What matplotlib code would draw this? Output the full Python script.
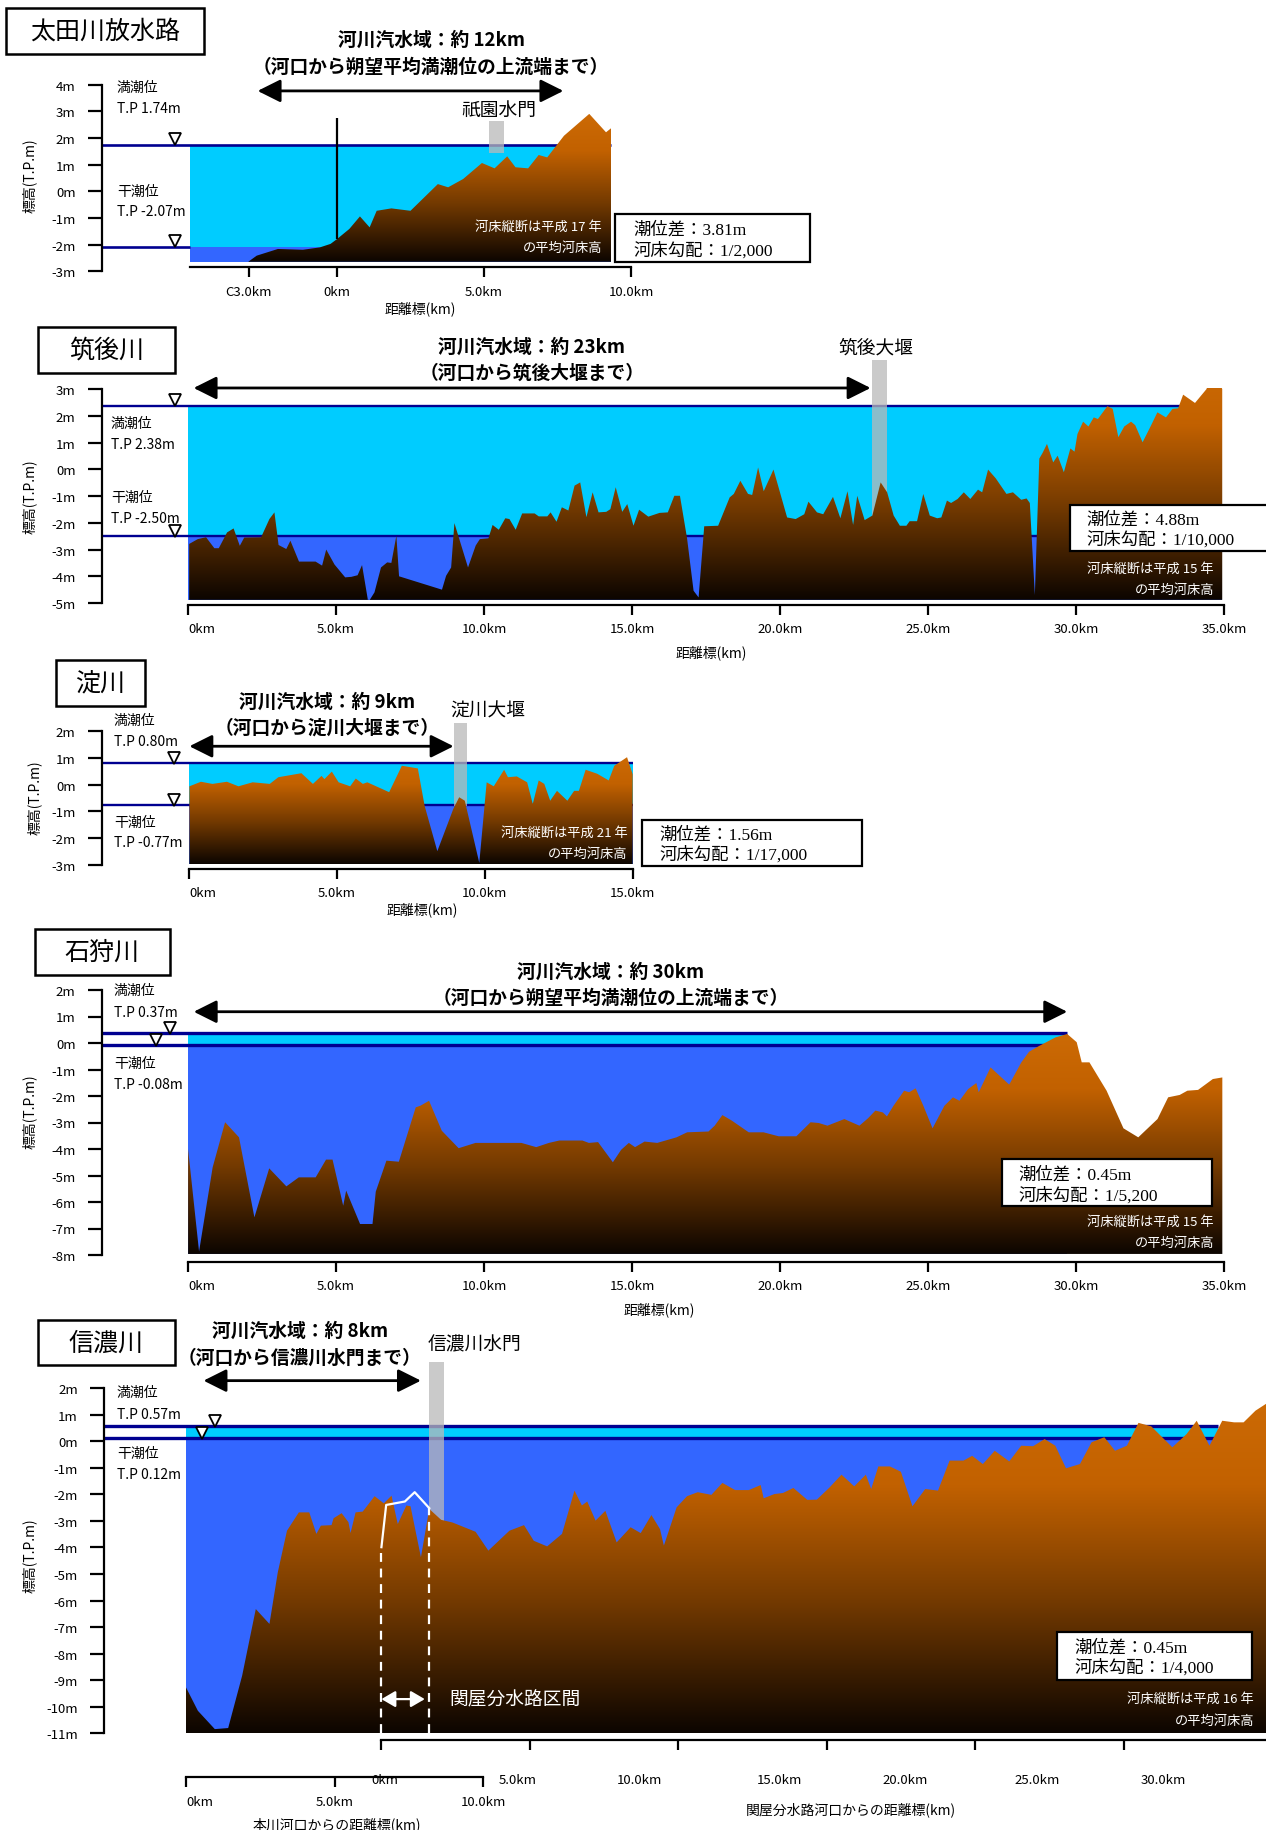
import numpy as np
import matplotlib
matplotlib.use('Agg')
import matplotlib.pyplot as plt
from matplotlib.patches import Rectangle, Polygon
from matplotlib.colors import LinearSegmentedColormap

plt.rcParams['font.family'] = ['Noto Sans CJK JP', 'DejaVu Sans']
SERIF = ['Liberation Serif', 'Noto Sans CJK JP']

# ==================================================================
# data
# ==================================================================
river_names = ['太田川放水路', '筑後川', '淀川', '石狩川', '信濃川']
high_tide = [1.74, 2.38, 0.80, 0.37, 0.57]
low_tide = [-2.07, -2.50, -0.77, -0.08, 0.12]
tide_range = ['3.81m', '4.88m', '1.56m', '0.45m', '0.45m']
bed_slope = ['1/2,000', '1/10,000', '1/17,000', '1/5,200', '1/4,000']
survey_year = [17, 15, 21, 15, 16]
brackish_len = [12, 23, 9, 30, 8]
brackish_note = ['河口から朔望平均満潮位の上流端まで', '河口から筑後大堰まで',
                 '河口から淀川大堰まで', '河口から朔望平均満潮位の上流端まで',
                 '河口から信濃川水門まで']
brackish_from = [-2.7, 0.19, 0.0, 0.19, 0.59]
brackish_to = [7.7, 23.06, 8.94, 29.7, 7.91]
gate_names = ['祇園水門', '筑後大堰', '淀川大堰', None, '信濃川水門']
gate_from = [5.17, 23.1, 8.95, None, 8.19]
gate_to = [5.68, 23.6, 9.40, None, 8.69]
gate_top = [2.64, 4.09, 2.31, None, 2.99]
gate_bottom = [1.42, -4.8, -0.8, None, -3.0]

yticks_all = [list(range(-3, 5)), list(range(-5, 4)), list(range(-3, 3)),
              list(range(-8, 3)), list(range(-11, 3))]
xticks_all = [[-3, 0, 5, 10], [0, 5, 10, 15, 20, 25, 30, 35], [0, 5, 10, 15],
              [0, 5, 10, 15, 20, 25, 30, 35], [0, 5, 10]]
xticklabels_all = [['C3.0km', '0km', '5.0km', '10.0km'],
                   ['0km', '5.0km', '10.0km', '15.0km', '20.0km', '25.0km', '30.0km', '35.0km'],
                   ['0km', '5.0km', '10.0km', '15.0km'],
                   ['0km', '5.0km', '10.0km', '15.0km', '20.0km', '25.0km', '30.0km', '35.0km'],
                   ['0km', '5.0km', '10.0km']]

# river bed profiles (distance km, elevation T.P. m)
ota_km = [-3.02, -2.73, -2.01, -1.16, -0.58, -0.22, 0.0, 0.42, 0.78, 1.11, 1.35, 1.85,
          2.50, 3.43, 3.78, 4.29, 4.93, 5.36, 5.79, 6.07, 6.50, 6.86, 7.15, 7.72, 8.58,
          9.15, 9.32]
ota_z = [-2.64, -2.41, -2.16, -2.19, -2.10, -1.97, -1.79, -1.41, -0.94, -1.35, -0.73,
         -0.64, -0.73, 0.27, 0.15, 0.46, 1.06, 0.86, 1.31, 0.90, 0.86, 1.36, 1.27, 2.08,
         2.90, 2.21, 2.36]

chikugo_km = [0.04, 0.33, 0.61, 0.89, 1.04, 1.32, 1.54, 1.75, 1.90, 2.47, 2.75, 2.92,
              3.06, 3.32, 3.46, 3.75, 4.31, 4.53, 4.67, 4.95, 5.31, 5.52, 5.73, 5.88,
              6.09, 6.30, 6.52, 6.73, 6.87, 7.04, 7.13, 8.58, 8.72, 8.89, 9.00, 9.46,
              9.72, 9.86, 10.15, 10.29, 10.50, 10.72, 10.86, 11.07, 11.29, 11.71, 11.85,
              12.14, 12.25, 12.45, 12.63, 12.85, 13.06, 13.25, 13.46, 13.67, 13.87, 14.13,
              14.27, 14.45, 14.67, 14.84, 15.05, 15.24, 15.55, 15.93, 16.21, 16.43, 16.62,
              16.86, 17.08, 17.25, 17.44, 17.91, 18.30, 18.44, 18.66, 18.92, 19.06, 19.26,
              19.45, 19.78, 20.24, 20.53, 20.82, 20.96, 21.25, 21.46, 21.79, 22.04, 22.28,
              22.47, 22.61, 22.86, 23.12, 23.40, 23.62, 23.84, 24.05, 24.27, 24.38, 24.63,
              24.84, 25.06, 25.31, 25.45, 25.64, 25.78, 26.00, 26.21, 26.43, 26.69, 26.83,
              27.03, 27.29, 27.65, 27.87, 28.15, 28.33, 28.44, 28.61, 28.76, 28.87, 29.02,
              29.23, 29.38, 29.59, 29.81, 29.95, 30.05, 30.24, 30.42, 30.60, 30.74, 31.06,
              31.24, 31.43, 31.63, 31.86, 32.00, 32.25, 32.54, 32.75, 33.04, 33.26, 33.45,
              33.62, 34.02, 34.41, 34.63, 34.94]
chikugo_z = [-2.79, -2.61, -2.54, -2.95, -2.95, -2.36, -2.21, -2.86, -2.55, -2.54, -1.86,
             -1.61, -2.83, -2.98, -2.67, -3.45, -3.45, -3.60, -3.00, -3.56, -4.04, -4.02,
             -3.96, -3.58, -4.97, -4.60, -3.67, -3.48, -3.50, -2.48, -4.00, -4.50, -3.98,
             -3.67, -2.01, -3.67, -2.85, -2.61, -2.58, -2.08, -2.26, -1.83, -1.86, -2.26,
             -1.65, -1.65, -1.76, -1.76, -1.61, -1.96, -1.42, -1.54, -0.61, -0.49, -1.79,
             -0.86, -1.61, -1.59, -1.49, -0.67, -1.59, -1.30, -2.11, -1.51, -1.77, -1.63,
             -1.61, -0.99, -0.99, -2.58, -4.54, -4.79, -2.13, -2.11, -1.05, -0.92, -0.43,
             -0.92, -0.96, 0.07, -0.82, -0.01, -1.80, -1.86, -1.68, -1.21, -1.61, -1.68,
             -1.03, -1.83, -0.82, -2.08, -0.99, -1.90, -1.73, -0.49, -0.86, -1.73, -2.11,
             -2.11, -1.94, -1.94, -0.92, -1.73, -1.83, -1.80, -1.17, -1.26, -1.11, -0.86,
             -1.11, -0.76, -0.86, -0.01, -0.34, -0.92, -0.86, -1.14, -1.09, -1.26, -4.70,
             0.40, 0.61, 0.95, 0.26, 0.51, -0.11, 0.78, 0.66, 1.32, 1.78, 1.60, 1.94, 1.88,
             2.36, 2.26, 1.20, 1.60, 1.78, 1.65, 1.01, 1.65, 2.13, 1.94, 2.26, 2.28, 2.79,
             2.48, 3.00, 3.84, 3.00]

yodo_km = [0.0, 0.39, 0.78, 1.27, 1.66, 2.14, 2.72, 3.01, 3.79, 4.18, 4.47, 4.57, 4.82,
           5.05, 5.44, 5.63, 5.87, 6.02, 6.76, 7.19, 7.73, 7.96, 8.39, 8.93, 9.13, 9.32,
           9.81, 10.06, 10.30, 10.65, 10.78, 11.08, 11.43, 11.62, 11.82, 12.01, 12.21,
           12.44, 12.79, 13.02, 13.18, 13.41, 13.80, 14.19, 14.38, 14.81, 15.0]
yodo_z = [-0.06, 0.11, 0.03, 0.11, -0.06, 0.09, 0.03, 0.28, 0.43, 0.03, 0.33, 0.21, 0.49,
          0.09, -0.06, 0.23, 0.03, 0.09, -0.28, 0.71, 0.61, -0.79, -2.49, -0.91, -0.47,
          -0.60, -2.93, 0.09, -0.06, 0.56, 0.28, 0.31, 0.09, -0.72, 0.16, 0.03, -0.60,
          -0.23, -0.60, -0.23, -0.23, 0.56, 0.41, 0.16, 0.71, 1.03, 0.39]

ishikari_km = [0.0, 0.37, 0.83, 1.25, 1.72, 2.24, 2.74, 3.32, 3.74, 4.31, 4.66, 4.88, 5.24,
               5.34, 5.81, 6.23, 6.34, 6.70, 7.12, 7.69, 7.86, 8.14, 8.57, 9.14, 9.71,
               11.26, 11.76, 12.19, 12.54, 13.32, 13.54, 13.85, 14.35, 14.63, 14.89, 15.10,
               15.42, 15.85, 16.50, 16.86, 17.58, 17.79, 18.05, 18.37, 18.94, 19.44, 19.95,
               20.55, 21.03, 21.31, 21.60, 22.17, 22.68, 22.97, 23.22, 23.47, 23.61, 23.83,
               24.19, 24.36, 24.58, 24.84, 25.15, 25.55, 25.84, 26.06, 26.35, 26.63, 26.71,
               27.11, 27.74, 28.15, 28.41, 28.72, 29.30, 29.70, 30.02, 30.19, 30.45, 31.03,
               31.60, 32.10, 32.75, 33.11, 33.50, 33.76, 34.12, 34.62, 34.94]
ishikari_z = [-4.00, -7.87, -4.69, -2.99, -3.56, -6.58, -4.73, -5.41, -5.07, -5.07, -4.40,
              -4.40, -6.14, -5.57, -6.83, -6.83, -5.61, -4.44, -4.48, -2.43, -2.36, -2.18,
              -3.31, -3.97, -3.77, -3.77, -3.93, -3.77, -3.68, -3.68, -3.77, -3.74, -4.50,
              -4.03, -3.77, -3.93, -3.72, -3.77, -3.56, -3.37, -3.34, -3.12, -2.72, -2.93,
              -3.37, -3.37, -3.52, -3.52, -2.99, -3.02, -3.12, -2.87, -3.12, -2.84, -2.55,
              -2.62, -2.77, -2.37, -1.80, -1.86, -1.71, -2.37, -3.22, -2.37, -2.05, -2.18,
              -1.74, -1.51, -1.86, -0.92, -1.57, -0.73, -0.33, -0.13, 0.21, 0.34, 0.03,
              -0.73, -0.73, -1.80, -3.22, -3.56, -2.87, -2.05, -1.96, -1.80, -1.77, -1.36,
              -1.30]

shinano_km = [0.0, 0.40, 0.97, 1.42, 1.89, 2.35, 2.81, 3.09, 3.40, 3.80, 4.15, 4.39, 4.54,
              4.90, 4.97, 5.24, 5.47, 5.54, 5.71, 5.95, 6.35, 6.66, 6.92, 7.13, 7.42, 7.56,
              7.91, 8.19, 8.59, 8.97, 9.75, 10.18, 10.89, 11.38, 11.71, 12.16, 12.66, 13.08,
              13.33, 13.51, 13.79, 14.12, 14.50, 14.97, 15.31, 15.67, 15.96, 16.09, 16.52,
              16.87, 17.23, 17.69, 18.06, 18.49, 18.95, 19.35, 19.45, 19.81, 20.10, 20.45,
              20.92, 21.24, 21.67, 22.07, 22.50, 22.89, 23.07, 23.31, 23.70, 24.07, 24.46,
              24.89, 25.32, 25.71, 26.18, 26.47, 26.83, 27.23, 27.72, 28.12, 28.52, 28.91,
              29.27, 29.63, 30.10, 30.49, 30.92, 31.28, 31.68, 32.07, 32.50, 33.21, 33.69,
              34.03, 34.46, 34.89, 35.29, 35.61, 36.01, 36.41]
shinano_z = [-9.27, -10.15, -10.84, -10.80, -8.83, -6.32, -6.88, -4.94, -3.37, -2.68, -2.68,
             -3.49, -3.18, -3.16, -2.90, -2.71, -3.05, -3.46, -2.68, -2.65, -2.07, -2.34,
             -2.05, -3.12, -2.42, -2.45, -4.37, -2.55, -2.96, -3.06, -3.41, -4.12, -3.37,
             -3.16, -3.75, -3.96, -3.49, -1.86, -2.42, -2.27, -2.99, -2.62, -3.81, -3.24,
             -3.46, -2.78, -3.31, -3.93, -2.49, -2.07, -1.92, -2.02, -1.57, -1.84, -1.84,
             -1.65, -2.15, -1.99, -1.95, -1.76, -2.21, -2.20, -1.74, -1.26, -1.70, -1.26,
             -1.80, -0.95, -0.95, -1.15, -2.45, -1.80, -1.86, -0.73, -0.73, -0.55, -0.86,
             -0.36, -0.76, -0.17, -0.19, 0.08, -0.17, -1.02, -0.86, -0.04, 0.15, -0.36,
             -0.17, 0.69, 0.56, -0.23, 0.27, 0.77, -0.17, 0.77, 0.71, 0.71, 1.15, 1.44]

bed_km = [ota_km, chikugo_km, yodo_km, ishikari_km, shinano_km]
bed_z = [ota_z, chikugo_z, yodo_z, ishikari_z, shinano_z]

# Sekiya diversion channel (信濃川)
sekiya_km = [6.58, 6.74, 7.37, 7.70, 8.19]
sekiya_z = [-3.99, -2.40, -2.27, -1.92, -2.52]
sekiya_arrow_to = 8.04
sekiya_offset = 6.58
sekiya_ticks = [0, 5, 10, 15, 20, 25]
sekiya_label_pos = [0.11, 4.58, 8.70, 13.41, 17.62, 22.09, 26.33]
sekiya_labels = ['0km', '5.0km', '10.0km', '15.0km', '20.0km', '25.0km', '30.0km']

# ==================================================================
# layout (pixels of the 1266 x 1831 picture)
# ==================================================================
layout = [
    dict(x_ax=102, x_0=337, sx=29.4, y_0=192.3, sy=26.7, xmax=10.02, ymin=-3.05, ymax=4.05,
         plot_left=-5.0, bottom=-2.64, axis_y=-2.85, water_end=9.32, low_end=-5.0, lw=1.9,
         tri_x=(-5.51, -5.51), title=(6, 9, 204, 55), head=(431, 40, 67), gate_lab=(499, 110),
         lab_x=117, lab_y=(88, 109, 192, 212), ylab=(29.5, 176), xlab=(420, 309),
         note=(602, 227, 248), info=(615, 215, 810, 263), info_x=633, info_y=(230, 251),
         arrow_y=3.76),
    dict(x_ax=102, x_0=188, sx=29.6, y_0=470.3, sy=26.75, xmax=35.02, ymin=-5.12, ymax=3.05,
         plot_left=0.0, bottom=-4.88, axis_y=-5.07, water_end=34.94, low_end=34.94, lw=1.7,
         tri_x=(-0.45, -0.45), title=(38, 328, 175, 374), head=(532, 347, 373), gate_lab=(876, 348),
         lab_x=111, lab_y=(424, 445, 498, 519), ylab=(29.5, 497), xlab=(711, 653),
         note=(1214, 569, 590), info=(1070, 506, 1275, 552), info_x=1086, info_y=(520, 540),
         arrow_y=3.04),
    dict(x_ax=102, x_0=189.4, sx=29.55, y_0=785.7, sy=26.7, xmax=15.02, ymin=-3.2, ymax=2.05,
         plot_left=0.0, bottom=-2.97, axis_y=-3.16, water_end=15.0, low_end=15.0, lw=1.7,
         tri_x=(-0.52, -0.52), title=(56, 661, 145, 707), head=(327, 702, 728), gate_lab=(488, 711),
         lab_x=114, lab_y=(721, 742, 823, 843), ylab=(34.4, 798), xlab=(422, 910),
         note=(627.5, 833, 854), info=(642, 821, 862, 867), info_x=659, info_y=(835, 855),
         arrow_y=1.44),
    dict(x_ax=102, x_0=188.1, sx=29.6, y_0=1044, sy=26.5, xmax=35.02, ymin=-8.3, ymax=2.05,
         plot_left=0.0, bottom=-7.96, axis_y=-8.25, water_end=29.7, low_end=29.7, lw=2.4,
         tri_x=(-0.625, -1.09), title=(34.5, 930, 170, 976), head=(611, 972, 998), gate_lab=None,
         lab_x=114, lab_y=(991, 1013, 1064, 1085), ylab=(29.5, 1112), xlab=(659, 1310),
         note=(1214, 1222, 1243), info=(1001.5, 1160, 1212, 1207), info_x=1018, info_y=(1175, 1196),
         arrow_y=1.18),
    dict(x_ax=104.4, x_0=186, sx=29.7, y_0=1442.2, sy=26.56, xmax=36.36, ymin=-12.7, ymax=2.05,
         plot_left=0.0, bottom=-11.0, axis_y=-12.65, water_end=34.75, low_end=34.75, lw=2.4,
         tri_x=(0.96, 0.54), title=(38, 1321, 175, 1366), head=(300, 1331, 1358), gate_lab=(475, 1345),
         lab_x=117, lab_y=(1393, 1415, 1454, 1475), ylab=(29.5, 1556), xlab=(337, 1825),
         note=(1254, 1699, 1721), info=(1057, 1633, 1252, 1681), info_x=1074, info_y=(1648, 1668),
         arrow_y=2.28),
]

CYAN = '#00ccff'
BLUE = '#3366ff'
NAVY = '#000090'
bed_cmap = LinearSegmentedColormap.from_list(
    'bed', [(0.0, '#0c0500'), (0.4, '#743a00'), (0.75, '#c26100'), (1.0, '#cc6a05')])

W, H = 1266, 1831
fig = plt.figure(figsize=(W / 100, H / 100), dpi=100)


def fx(px):
    return px / W


def fy(py):
    return 1 - py / H


def ftext(x, y, s, **kw):
    kw.setdefault('va', 'center')
    kw.setdefault('ha', 'left')
    return fig.text(fx(x), fy(y), s, **kw)


def fbox(x0, y0, x1, y1, lw=1.6):
    fig.add_artist(Rectangle((fx(x0), fy(y1)), (x1 - x0) / W, (y1 - y0) / H,
                             transform=fig.transFigure, fc='white', ec='black', lw=lw, zorder=2))


for i, L in enumerate(layout):
    km = np.array(bed_km[i])
    z = np.array(bed_z[i])
    xmin = (L['x_ax'] - L['x_0']) / L['sx']
    left_px = L['x_ax']
    right_px = L['x_0'] + L['xmax'] * L['sx']
    top_px = L['y_0'] - L['ymax'] * L['sy']
    bot_px = L['y_0'] - L['ymin'] * L['sy']
    ax = fig.add_axes([fx(left_px), fy(bot_px), (right_px - left_px) / W, (bot_px - top_px) / H])
    ax.patch.set_visible(False)

    x0, xw, bot = L['plot_left'], L['water_end'], L['bottom']
    # water body
    ax.fill_between([x0, xw], bot, high_tide[i], color=CYAN, lw=0, zorder=1)
    ax.fill_between([x0, xw], bot, low_tide[i], color=BLUE, lw=0, zorder=1.5)
    ax.hlines(high_tide[i], xmin, xw, color=NAVY, lw=L['lw'], zorder=2)
    ax.hlines(low_tide[i], xmin, L['low_end'], color=NAVY, lw=L['lw'], zorder=2)

    # gate
    if gate_names[i] is not None:
        ax.add_patch(Rectangle((gate_from[i], gate_bottom[i]), gate_to[i] - gate_from[i],
                               gate_top[i] - gate_bottom[i], fc='#b9b9b9', ec='none',
                               alpha=0.75, zorder=2.5, clip_on=False))

    # river bed with vertical gradient
    verts = [(km[0], bot)] + list(zip(km, z)) + [(km[-1], bot)]
    poly = Polygon(verts, closed=True, transform=ax.transData)
    grad = np.linspace(0, 1, 256).reshape(-1, 1)
    im = ax.imshow(grad, extent=[km[0], km[-1], bot, z.max()], origin='lower',
                   aspect='auto', cmap=bed_cmap, zorder=3, interpolation='bilinear')
    im.set_clip_path(poly)

    # tide markers
    dy = 5.5 / L['sy']
    ax.plot([L['tri_x'][0]], [high_tide[i] + dy], marker='v', ms=8, mfc='white', mec='black',
            mew=1.3, ls='none', zorder=6, clip_on=False)
    ax.plot([L['tri_x'][1]], [low_tide[i] + dy], marker='v', ms=8, mfc='white', mec='black',
            mew=1.3, ls='none', zorder=6, clip_on=False)

    # brackish water reach arrow
    arrow_y = L['arrow_y']
    ax.annotate('', xy=(brackish_to[i], arrow_y), xytext=(brackish_from[i], arrow_y),
                arrowprops=dict(arrowstyle='<|-|>,head_length=0.7,head_width=0.35',
                                color='black', lw=2, shrinkA=0, shrinkB=0, mutation_scale=20),
                annotation_clip=False, zorder=6)

    if i == 0:
        ax.vlines(0, np.interp(0, km, z), 2.75, color='black', lw=1.6, zorder=4)

    if i == 4:
        ax.plot(sekiya_km, sekiya_z, color='white', lw=1.6, zorder=5)
        ax.vlines([sekiya_km[0], sekiya_km[-1]], bot, [sekiya_z[0], sekiya_z[-1]],
                  color='white', lw=1.6, linestyles=(0, (4, 3)), zorder=5)
        ax.annotate('', xy=(sekiya_arrow_to, -9.71), xytext=(sekiya_km[0], -9.71),
                    arrowprops=dict(arrowstyle='<|-|>,head_length=0.6,head_width=0.35',
                                    color='white', lw=1.6, shrinkA=0, shrinkB=0,
                                    mutation_scale=14), zorder=6)

    ax.set_xlim(xmin, L['xmax'])
    ax.set_ylim(L['ymin'], L['ymax'])

    # axes
    for s in ['top', 'right']:
        ax.spines[s].set_visible(False)
    ax.spines['left'].set_linewidth(1.6)
    ax.spines['bottom'].set_linewidth(1.6)
    ax.spines['left'].set_bounds(yticks_all[i][0], yticks_all[i][-1])
    ax.spines['bottom'].set_position(('data', L['axis_y']))
    ax.spines['bottom'].set_bounds(x0, xticks_all[i][-1])
    ax.set_yticks(yticks_all[i], [f'{v}m' for v in yticks_all[i]])
    ax.set_xticks(xticks_all[i], xticklabels_all[i])
    ax.tick_params(axis='y', direction='out', length=10, width=1.6, pad=9, labelsize=9.5)
    ax.tick_params(axis='x', direction='out', length=7.5, width=1.6, pad=5, labelsize=9.5)
    if i > 0:
        ax.xaxis.get_major_ticks()[0].label1.set_horizontalalignment('left')

    if i == 4:
        sec_left = L['x_0'] + xmin * L['sx']
        ax2 = fig.add_axes([fx(sec_left), fy(1741), (right_px - sec_left) / W, 1 / H])
        ax2.patch.set_visible(False)
        ax2.set_xlim(xmin - sekiya_offset, L['xmax'] - sekiya_offset)
        for s in ['top', 'right', 'left']:
            ax2.spines[s].set_visible(False)
        ax2.spines['bottom'].set_linewidth(1.6)
        ax2.spines['bottom'].set_bounds(0, L['xmax'] - sekiya_offset)
        ax2.set_yticks([])
        ax2.set_xticks(sekiya_ticks, [''] * len(sekiya_ticks))
        ax2.set_xticks(sekiya_label_pos, sekiya_labels, minor=True)
        ax2.tick_params(axis='x', which='major', direction='out', length=7.5, width=1.6)
        ax2.tick_params(axis='x', which='minor', length=0, pad=24, labelsize=9.5)

    # ---------------- texts ----------------
    t = L['title']
    fbox(*t, lw=1.8)
    ftext((t[0] + t[2]) / 2, (t[1] + t[3]) / 2, river_names[i], ha='center', fontsize=18, zorder=3)

    hx, hy1, hy2 = L['head']
    ftext(hx, hy1, f'河川汽水域：約 {brackish_len[i]}km', ha='center', fontsize=13.5,
          fontweight='bold')
    ftext(hx, hy2, f'（{brackish_note[i]}）', ha='center', fontsize=13.5, fontweight='bold')

    if L['gate_lab'] is not None:
        ftext(L['gate_lab'][0], L['gate_lab'][1], gate_names[i], ha='center', fontsize=13.5)

    lx = L['lab_x']
    ly = L['lab_y']
    ftext(lx, ly[0], '満潮位', fontsize=10)
    ftext(lx, ly[1], f'T.P {high_tide[i]:.2f}m', fontsize=10)
    ftext(lx, ly[2], '干潮位', fontsize=10)
    ftext(lx, ly[3], f'T.P {low_tide[i]:.2f}m', fontsize=10)

    ftext(L['ylab'][0], L['ylab'][1], '標高(T.P.m)', ha='center', rotation=90, fontsize=10)
    xl = '本川河口からの距離標(km)' if i == 4 else '距離標(km)'
    ftext(L['xlab'][0], L['xlab'][1], xl, ha='center', fontsize=10)

    nx, ny1, ny2 = L['note']
    ftext(nx, ny1, f'河床縦断は平成 {survey_year[i]} 年', ha='right', fontsize=9.5,
          color='white', zorder=5)
    ftext(nx, ny2, 'の平均河床高', ha='right', fontsize=9.5, color='white', zorder=5)

    fbox(*L['info'], lw=1.6)
    ftext(L['info_x'], L['info_y'][0], f'潮位差：{tide_range[i]}', family=SERIF, fontsize=12.5,
          zorder=3)
    ftext(L['info_x'], L['info_y'][1], f'河床勾配：{bed_slope[i]}', family=SERIF, fontsize=12.5,
          zorder=3)

ftext(449.5, 1700, '関屋分水路区間', fontsize=13.5, color='white', zorder=5)
ftext(851, 1810, '関屋分水路河口からの距離標(km)', ha='center', fontsize=10)

fig.savefig('out.png', dpi=100)
